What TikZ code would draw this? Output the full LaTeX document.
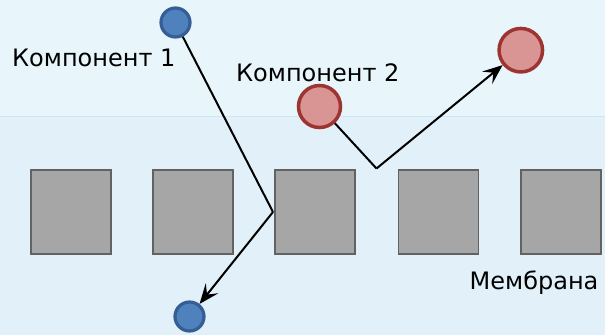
\documentclass[tikz,border=0pt]{standalone}
\usepackage{fontspec}
\setmainfont{DejaVu Sans}
\usetikzlibrary{arrows.meta}
\definecolor{bgtop}{RGB}{232,245,251}
\definecolor{bgbot}{RGB}{226,241,249}
\definecolor{bgline}{RGB}{206,231,246}
\definecolor{boxfill}{RGB}{166,166,166}
\definecolor{boxdraw}{RGB}{98,98,98}
\definecolor{bluefill}{RGB}{79,129,189}
\definecolor{bluedraw}{RGB}{52,94,148}
\definecolor{redfill}{RGB}{217,149,148}
\definecolor{reddraw}{RGB}{158,52,50}
\begin{document}
\begin{tikzpicture}[
  membox/.style={draw=boxdraw,fill=boxfill,line width=1.5pt,minimum width=80pt,minimum height=84pt,inner sep=0pt,outer sep=0pt},
  bluedot/.style={circle,draw=bluedraw,fill=bluefill,line width=3.2pt,minimum size=29pt,inner sep=0pt},
  reddot/.style={circle,draw=reddraw,fill=redfill,line width=3.5pt,minimum size=42pt,inner sep=0pt},
  lbl/.style={font=\fontsize{24pt}{28pt}\selectfont,inner sep=0pt,anchor=base west,text=black},
  path1/.style={line width=2pt,black},
  arr/.style={path1,arrows={-Stealth[length=20pt,width=16pt,inset=8pt]}}]
\begin{scope}[x=1pt,y=-1pt]
\useasboundingbox (0,0) rectangle (605,335);
\fill[bgtop] (0,0) rectangle (605,116);
\fill[bgbot] (0,116) rectangle (605,335);
\draw[bgline,line width=1pt] (0,116) -- (605,116);
% membrane
\node[membox] (m1) at (71,212) {};
\node[membox] (m2) at (193.2,212) {};
\node[membox] (m3) at (315.2,212) {};
\node[membox] (m4) at (438.5,212) {};
\node[membox] (m5) at (561,212) {};
% particles
\node[bluedot] (b1) at (175.5,22.5) {};
\node[bluedot] (b2) at (189.5,316.5) {};
\node[reddot] (r1) at (319.5,106.5) {};
\node[reddot,minimum size=43.5pt] (r2) at (520.8,50.2) {};
\coordinate (k1) at (273,212);
\coordinate (k2) at (376.5,168.5);
\draw[path1] (b1) -- (k1);
\draw[arr] (k1) -- (b2);
\draw[path1] (r1) -- (k2);
\draw[arr] (k2) -- (r2);
% labels
\node[lbl] (t1) at (12,66.7) {Компонент 1};
\node[lbl] (t2) at (236,81) {Компонент 2};
\node[lbl] (t3) at (469.5,289.3) {Мембрана};
\end{scope}
\end{tikzpicture}
\end{document}
